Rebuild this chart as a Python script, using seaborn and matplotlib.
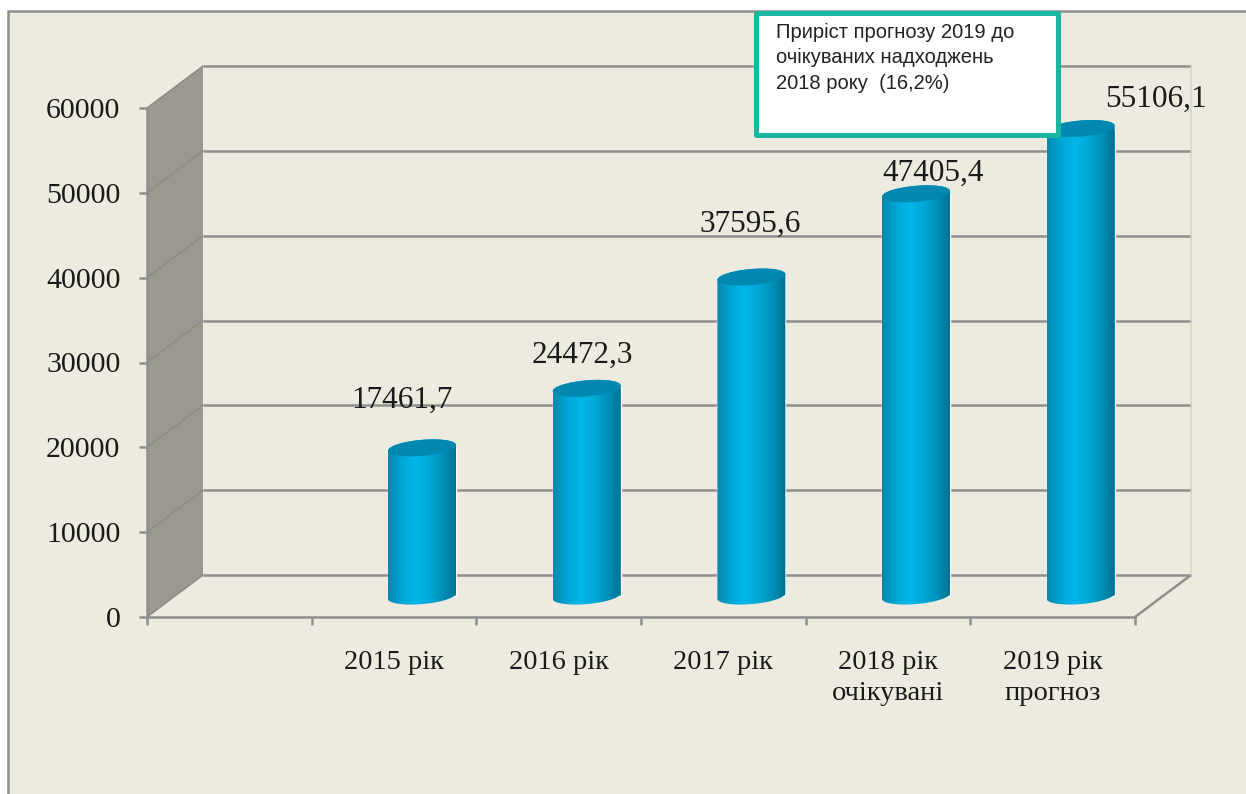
import seaborn as sns
import matplotlib
matplotlib.use('Agg')
import matplotlib.pyplot as plt
import matplotlib.ticker as ticker
from matplotlib.colors import LinearSegmentedColormap
from matplotlib.patches import Polygon, Rectangle
import numpy as np
import pandas as pd

# first slot of the category axis is empty in the original
categories = ['', '2015 рік', '2016 рік', '2017 рік', '2018 рік\nочікувані', '2019 рік\nпрогноз']
values = [np.nan, 17461.7, 24472.3, 37595.6, 47405.4, 55106.1]
y_ticks = [0, 10000, 20000, 30000, 40000, 50000, 60000]
note = 'Приріст прогнозу 2019 до\nочікуваних надходжень\n2018 року  (16,2%)'

W, H = 1246, 794
PANEL = '#edebe0'
WALL = '#9b9890'
LINE = '#8f8f8d'

# fake 3D depth, in data units: back wall sits this far behind the front plane
DEPTH_X = 0.34
DEPTH_Y = 4950

sns.set_style('white')
plt.rcParams['font.family'] = ['Liberation Serif', 'DejaVu Serif']

fig = plt.figure(figsize=(W / 100, H / 100), dpi=100, facecolor='white')
# panel runs off the right and bottom of the picture
fig.add_artist(Rectangle((8 / W, -0.1), 1.1, 1.1 - 11 / H, transform=fig.transFigure,
                         facecolor=PANEL, edgecolor=LINE, linewidth=1.8, zorder=-1))

ax = fig.add_axes([147 / W, (H - 617) / H, 988 / W, 509 / H])
ax.patch.set_alpha(0)

df = pd.DataFrame({'category': categories, 'value': values})
sns.barplot(data=df, x='category', y='value', order=categories, width=0.413,
            color='#00a8d8', errorbar=None, ax=ax, zorder=3)

x0, x1 = -0.5, len(categories) - 0.5
ax.set(xlim=(x0, x1), ylim=(0, 60000), xlabel='', ylabel='')

# side wall and back wall
ax.add_patch(Polygon([(x0, 0), (x0 + DEPTH_X, DEPTH_Y), (x0 + DEPTH_X, 60000 + DEPTH_Y), (x0, 60000)],
                     facecolor=WALL, edgecolor='none', clip_on=False, zorder=1))
for t in y_ticks:
    ax.plot([x0 + DEPTH_X, x1 + DEPTH_X], [t + DEPTH_Y, t + DEPTH_Y], color=LINE, lw=1.8,
            clip_on=False, zorder=2, solid_capstyle='butt')
    ax.plot([x0, x0 + DEPTH_X], [t, t + DEPTH_Y], color='#8c8c8c', lw=1.1, clip_on=False, zorder=2)
ax.plot([x1, x1 + DEPTH_X], [0, DEPTH_Y], color=LINE, lw=1.8, clip_on=False, zorder=2)
ax.plot([x1 + DEPTH_X, x1 + DEPTH_X], [DEPTH_Y, 60000 + DEPTH_Y], color='#d6d5cd', lw=1.1,
        clip_on=False, zorder=2)

# turn the flat bars into cylinders half way into the depth
shade = LinearSegmentedColormap.from_list('cyl', ['#0a86ad', '#00a6d4', '#00b8ea', '#00a8d6', '#0090b8', '#006f90'])
gradient = np.linspace(0, 1, 256).reshape(1, -1)
t_arc = np.linspace(0, np.pi, 60)
# label shift from the top of each cylinder, pixels
label_shift = [(-20, 48), (-4, 33), (-1, 53), (17, 21), (75, 29)]

bars = [b for b in ax.patches if isinstance(b, Rectangle) and np.isfinite(b.get_height()) and b.get_height() > 0]
for bar, shift in zip(bars, label_shift):
    value = bar.get_height()
    bar.set_x(bar.get_x() + DEPTH_X / 2)
    bar.set_y(DEPTH_Y / 2)
    a = bar.get_width() / 2
    xc = bar.get_x() + a
    low = DEPTH_Y / 2
    top = low + value
    b_y = 950     # half height of the end ellipses
    s_y = 330     # tilt of the end ellipses

    # outline: bottom front arc, then top back arc
    xs_low = xc - a * np.cos(t_arc)
    ys_low = low - b_y * np.sin(t_arc) - s_y * np.cos(t_arc)
    xs_top = xc + a * np.cos(t_arc)
    ys_top = top + b_y * np.sin(t_arc) + s_y * np.cos(t_arc)
    outline = Polygon(np.column_stack([np.r_[xs_low, xs_top], np.r_[ys_low, ys_top]]),
                      transform=ax.transData, facecolor='none', edgecolor='none')
    ax.add_patch(outline)
    img = ax.imshow(gradient, extent=(xc - a, xc + a, low - 2000, top + 2000), aspect='auto',
                    cmap=shade, zorder=4, clip_on=True)
    img.set_clip_path(outline)

    t_full = np.linspace(0, 2 * np.pi, 120)
    ax.add_patch(Polygon(np.column_stack([xc + a * np.cos(t_full),
                                          top + b_y * np.sin(t_full) + s_y * np.cos(t_full)]),
                         facecolor='#0088b0', edgecolor='none', clip_on=False, zorder=5))

    ax.annotate(f'{value:.1f}'.replace('.', ','), xy=(xc, top), xycoords='data',
                xytext=shift, textcoords='offset pixels', ha='center', va='center',
                fontsize=22.5, color='#1a1a1a', zorder=6, annotation_clip=False)

ax.set(xlim=(x0, x1), ylim=(0, 60000))

# axes
for side in ['top', 'right']:
    ax.spines[side].set_visible(False)
for side in ['left', 'bottom']:
    ax.spines[side].set_color(LINE)
    ax.spines[side].set_linewidth(1.8)
    ax.spines[side].set_zorder(2)

ax.set_yticks(y_ticks)
ax.tick_params(axis='y', length=6, width=1.8, color=LINE, pad=13, labelsize=21.5, labelcolor='#1a1a1a', left=True)
ax.xaxis.set_minor_locator(ticker.FixedLocator(np.arange(x0, x1 + 1)))
ax.tick_params(axis='x', which='minor', length=6, width=1.8, color=LINE, bottom=True)
ax.tick_params(axis='x', which='major', length=0, pad=24, labelsize=20.5, labelcolor='#1a1a1a')
for lab in ax.get_xticklabels():
    lab.set_linespacing(1.3)
    lab.set_verticalalignment('top')

# callout box on top of everything
fig.add_artist(Rectangle((756.5 / W, 1 - 134.5 / H), 301 / W, 121.5 / H, transform=fig.transFigure,
                         facecolor='white', edgecolor='#1cb5a0', linewidth=3.6, joinstyle='round', zorder=8))
fig.text(776 / W, 1 - 23 / H, note, family=['Liberation Sans', 'DejaVu Sans'], fontsize=14.5, color='#222222',
         va='top', ha='left', linespacing=1.42, zorder=9)

fig.savefig('out.png', dpi=100)
